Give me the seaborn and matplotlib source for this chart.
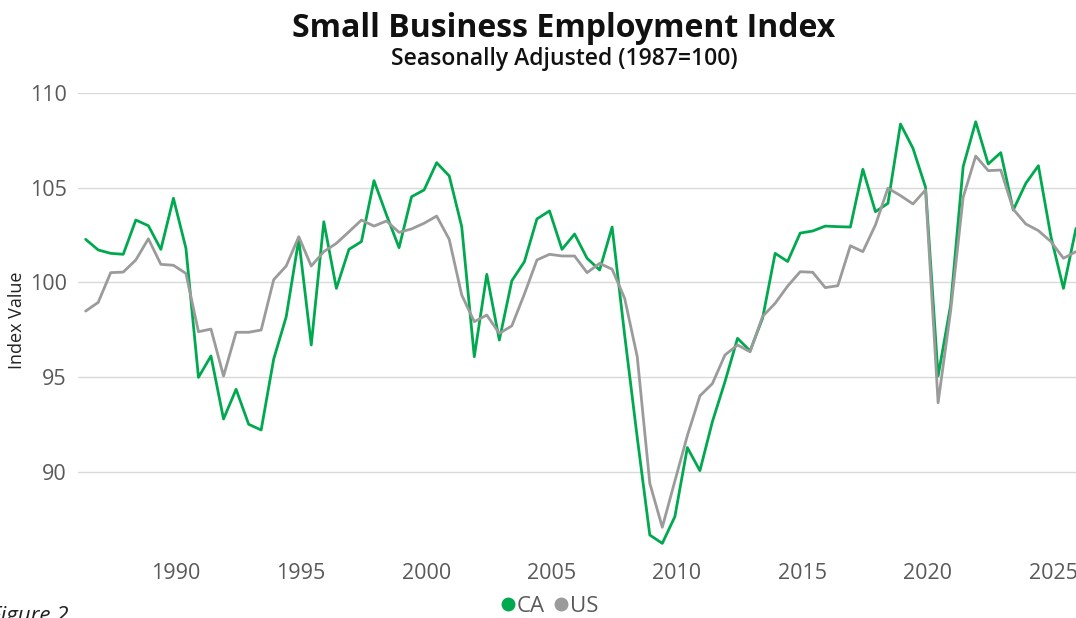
import matplotlib
matplotlib.use("Agg")
import matplotlib.pyplot as plt
import matplotlib.dates as mdates
from matplotlib.lines import Line2D
import seaborn as sns
import pandas as pd

# semi-annual observations (June / December), 1986-2025
dates = pd.date_range("1986-06-01", "2025-12-01", freq="6MS")

ca_index = [
    102.27, 101.71, 101.53, 101.48, 103.29, 102.99, 101.74, 104.44, 101.80, 94.98,
    96.11, 92.78, 94.35, 92.50, 92.20, 95.95, 98.18, 102.27, 96.69, 103.20,
    99.68, 101.74, 102.15, 105.37, 103.56, 101.83, 104.52, 104.88, 106.32, 105.62,
    102.94, 96.07, 100.42, 96.95, 100.08, 101.09, 103.35, 103.77, 101.74, 102.55,
    101.27, 100.65, 102.92, 97.2, 91.8, 86.65, 86.21, 87.62, 91.27, 90.05,
    92.64, 94.75, 97.04, 96.38, 98.10, 101.53, 101.10, 102.60, 102.71, 102.97,
    102.94, 102.92, 105.97, 103.73, 104.17, 108.36, 107.08, 105.02, 95.05, 98.80,
    106.11, 108.48, 106.25, 106.85, 103.82, 105.23, 106.16, 102.41, 99.68, 102.85,
]
us_index = [
    98.48, 98.94, 100.51, 100.54, 101.18, 102.30, 100.95, 100.90, 100.47, 97.39,
    97.53, 95.05, 97.36, 97.36, 97.48, 100.14, 100.86, 102.41, 100.86, 101.62,
    102.06, 102.67, 103.29, 102.97, 103.24, 102.64, 102.82, 103.12, 103.50, 102.27,
    99.33, 97.92, 98.27, 97.30, 97.70, 99.38, 101.18, 101.48, 101.39, 101.39,
    100.51, 101.00, 100.69, 99.15, 96.07, 89.38, 87.06, 89.50, 91.90, 94.00,
    94.65, 96.16, 96.69, 96.33, 98.20, 98.89, 99.80, 100.56, 100.53, 99.72,
    99.82, 101.93, 101.62, 103.03, 104.97, 104.58, 104.14, 104.88, 93.64, 98.50,
    104.49, 106.67, 105.90, 105.93, 103.86, 103.08, 102.73, 102.15, 101.27, 101.62,
]
series_names = ["CA", "US"]
colors = {"CA": "#00a94f", "US": "#9b9b9b"}

df = pd.concat([
    pd.DataFrame({"date": dates, "value": ca_index, "series": "CA"}),
    pd.DataFrame({"date": dates, "value": us_index, "series": "US"}),
])

sns.set_style("white")
plt.rcParams["font.family"] = ["Open Sans", "DejaVu Sans"]

fig = plt.figure(figsize=(10.76, 6.18), dpi=100)
ax = fig.add_axes([0.0725, 0.0929, 0.9275, 0.7566])

sns.lineplot(data=df, x="date", y="value", hue="series", palette=colors,
             linewidth=2.0, ax=ax, legend=False)

ax.set_ylim(85.3, 110)
ax.set_xlim(pd.Timestamp("1986-02-10"), pd.Timestamp("2025-12-01"))
ax.set_yticks([90, 95, 100, 105, 110])
ax.xaxis.set_major_locator(mdates.YearLocator(5))
ax.xaxis.set_major_formatter(mdates.DateFormatter("%Y"))
ax.grid(axis="y", color="#d9d9d9", linewidth=1.0)
ax.grid(axis="x", visible=False)
for s in ax.spines.values():
    s.set_visible(False)
ax.tick_params(axis="both", length=0, labelsize=15.5, labelcolor="#595959")
ax.tick_params(axis="y", pad=8)
ax.tick_params(axis="x", pad=2)
ax.set_xlabel("")
ax.set_ylabel("Index Value", fontsize=13, color="#222222")
ax.yaxis.set_label_coords(-0.052, 0.515)

fig.text(0.524, 0.954, "Small Business Employment Index", ha="center", va="center",
         fontsize=23, fontweight="bold", color="#111111")
fig.text(0.524, 0.905, "Seasonally Adjusted (1987=100)", ha="center", va="center",
         fontsize=16.5, fontweight="semibold", color="#111111")

handles = [Line2D([], [], marker="o", linestyle="", markersize=9,
                  color=colors[n]) for n in series_names]
fig.legend(handles, series_names, loc="center", bbox_to_anchor=(0.51, 0.019),
           ncol=2, frameon=False, fontsize=16, handletextpad=0.0,
           columnspacing=0.3, labelcolor="#595959", handlelength=0.8)

fig.text(-0.009, 0.019, "Figure 2", ha="left", va="top", fontsize=16,
         style="italic", color="#222222")

fig.savefig("out.png", dpi=100)
